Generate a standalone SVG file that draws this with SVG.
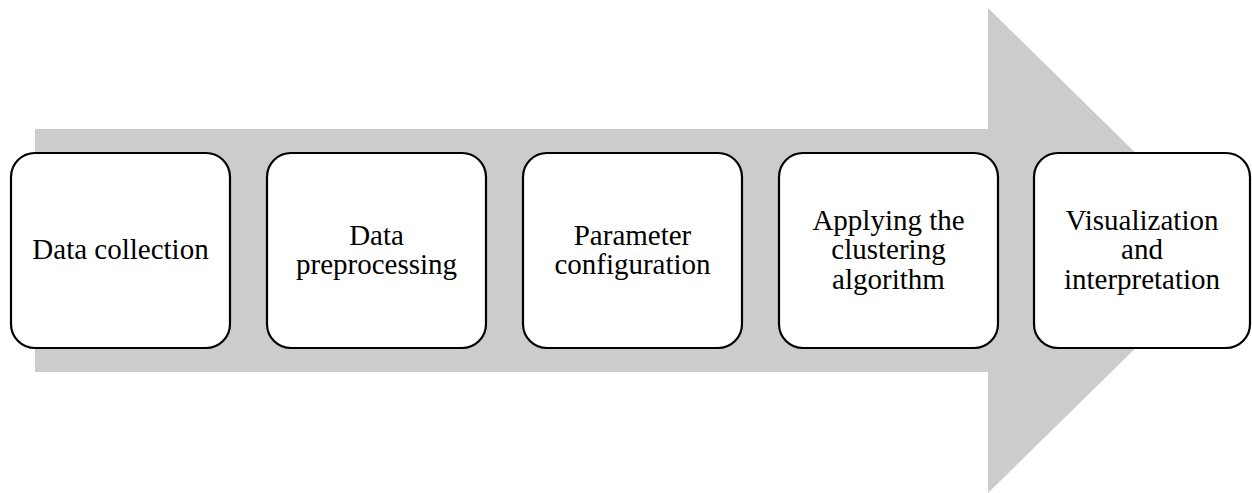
<svg xmlns="http://www.w3.org/2000/svg" width="1252" height="493" viewBox="0 0 1252 493">
<style>
.box{fill:#ffffff;stroke:#000000;stroke-width:2.2}
.lbl{font-family:"Liberation Serif","Times New Roman",serif;font-size:29px;fill:#000000;text-anchor:middle}
</style>
<rect width="1252" height="493" fill="#ffffff"/>
<g id="connectors">
<polygon points="35,129 988,129 988,8 1235,250.5 988,493 988,372 35,372" fill="#cccccc"/>
</g>
<g id="node1">
<rect class="box" x="11" y="153" width="219" height="195" rx="24" ry="24"/>
<text class="lbl" x="120.5" y="259.3">Data collection</text>
</g>
<g id="node2">
<rect class="box" x="267" y="153" width="219" height="195" rx="24" ry="24"/>
<text class="lbl" x="376.5" y="244.5">Data</text>
<text class="lbl" x="376.5" y="274">preprocessing</text>
</g>
<g id="node3">
<rect class="box" x="523" y="153" width="219" height="195" rx="24" ry="24"/>
<text class="lbl" x="632.5" y="244.5">Parameter</text>
<text class="lbl" x="632.5" y="274">configuration</text>
</g>
<g id="node4">
<rect class="box" x="779" y="153" width="219" height="195" rx="24" ry="24"/>
<text class="lbl" x="888.5" y="229.8">Applying the</text>
<text class="lbl" x="888.5" y="259.3">clustering</text>
<text class="lbl" x="888.5" y="288.8">algorithm</text>
</g>
<g id="node5">
<rect class="box" x="1034" y="153" width="216" height="195" rx="24" ry="24"/>
<text class="lbl" x="1142" y="229.8">Visualization</text>
<text class="lbl" x="1142" y="259.3">and</text>
<text class="lbl" x="1142" y="288.8">interpretation</text>
</g>
</svg>
